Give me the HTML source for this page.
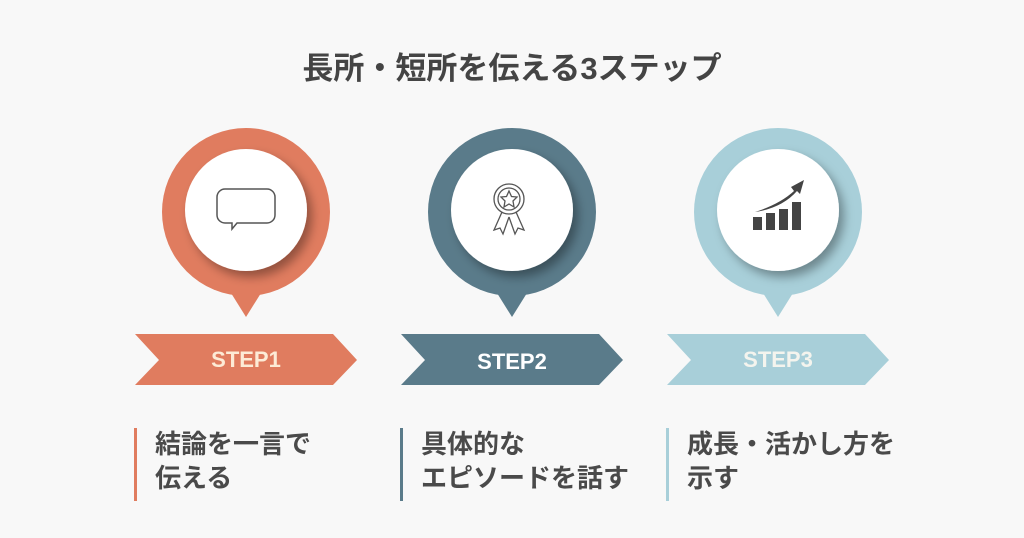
<!DOCTYPE html>
<html><head><meta charset="utf-8"><style>
body{margin:0;width:1024px;height:538px;background:#f8f8f8;position:relative;overflow:hidden;font-family:"Liberation Sans","Noto Sans CJK JP",sans-serif}
.t{position:absolute;left:0;width:1024px;top:50px;text-align:center;font-size:31px;font-weight:bold;color:#444;line-height:38px}
.s{position:absolute;font-size:22px;font-weight:bold;text-align:center;width:100px}
.bar{position:absolute;top:428px;width:3px;height:73px}
.tx{position:absolute;top:427px;font-size:26px;font-weight:bold;color:#4a4a4a;line-height:34px;white-space:nowrap}
</style></head><body>
<div class="t">長所・短所を伝える3ステップ</div>
<svg width="1024" height="538" style="position:absolute;left:0;top:0">
<defs><filter id="sh" x="-30%" y="-30%" width="170%" height="170%"><feDropShadow dx="5" dy="6" stdDeviation="5" flood-color="#000" flood-opacity="0.35"/></filter></defs>
<circle cx="246" cy="212" r="84" fill="#e07c5f"/>
<polygon points="226,285 266,285 246,317" fill="#e07c5f"/>
<circle cx="246" cy="210" r="61" fill="#fff" filter="url(#sh)"/>
<polygon points="135,334 333,334 357,360 333,385 135,385 159,360" fill="#e07c5f"/>
<circle cx="512" cy="212" r="84" fill="#5a7b8a"/>
<polygon points="492,285 532,285 512,317" fill="#5a7b8a"/>
<circle cx="512" cy="210" r="61" fill="#fff" filter="url(#sh)"/>
<polygon points="401,334 599,334 623,360 599,385 401,385 425,360" fill="#5a7b8a"/>
<circle cx="778" cy="212" r="84" fill="#a8cfd9"/>
<polygon points="758,285 798,285 778,317" fill="#a8cfd9"/>
<circle cx="778" cy="210" r="61" fill="#fff" filter="url(#sh)"/>
<polygon points="667,334 865,334 889,360 865,385 667,385 691,360" fill="#a8cfd9"/>
<path d="M225,189 h42 a8,8 0 0 1 8,8 v18 a8,8 0 0 1 -8,8 h-30 l-5,6 v-6 h-7 a8,8 0 0 1 -8,-8 v-18 a8,8 0 0 1 8,-8z" fill="none" stroke="#555" stroke-width="1.5"/>
<g fill="none" stroke="#555" stroke-width="1.3">
<circle cx="509" cy="199" r="15"/><circle cx="509" cy="199" r="11"/>
<polygon points="509,191 511.5,196.5 517,197 513,201 514,207 509,204 504,207 505,201 501,197 506.5,196.5"/>
<path d="M502,212 l-8,18 l6,-2 l3,6 l6,-17"/><path d="M516,212 l8,18 l-6,-2 l-3,6 l-6,-17"/>
</g>
<g fill="#444">
<rect x="753" y="217" width="9" height="13"/><rect x="766" y="213" width="9" height="17"/><rect x="779" y="209" width="9" height="21"/><rect x="792" y="202" width="9" height="28"/>
<path d="M755,212 Q780,204 794,191 l-3,-4 l13,-7 l-4,14 l-3,-3 Q782,208 755,212z"/>
</g>
</svg>
<div class="s" style="left:196px;top:347px;color:#fdebd6">STEP1</div>
<div class="s" style="left:462px;top:349px;color:#fff">STEP2</div>
<div class="s" style="left:728px;top:347px;color:#f4f4ee">STEP3</div>
<div class="bar" style="left:134px;background:#e07c5f"></div>
<div class="bar" style="left:400px;background:#5a7b8a"></div>
<div class="bar" style="left:666px;background:#a8cfd9"></div>
<div class="tx" style="left:155px">結論を一言で<br>伝える</div>
<div class="tx" style="left:421px">具体的な<br>エピソードを話す</div>
<div class="tx" style="left:687px">成長・活かし方を<br>示す</div>
</body></html>
